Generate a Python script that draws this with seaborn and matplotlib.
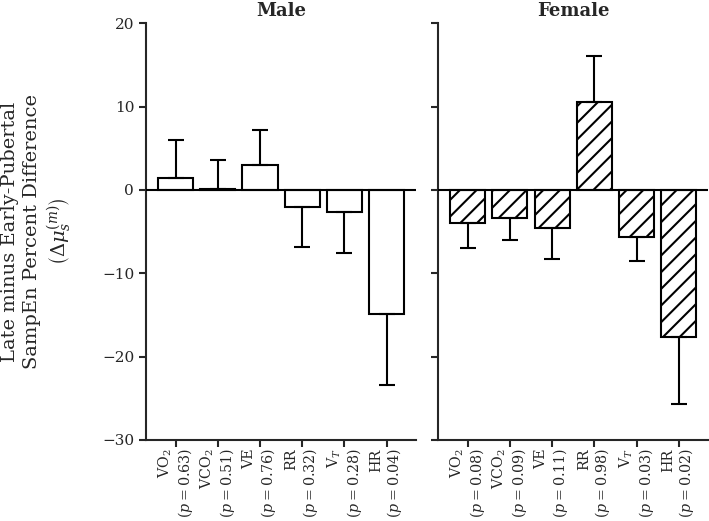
import numpy as np
import pandas as pd
import seaborn as sns
import matplotlib.pyplot as plt

sns.set_style("ticks")
plt.rcParams['font.family'] = ['DejaVu Serif']
plt.rcParams['mathtext.fontset'] = 'dejavuserif'
plt.rcParams['hatch.linewidth'] = 1.5

variables = ["VO$_2$", "VCO$_2$", "VE", "RR", "V$_T$", "HR"]

male_vals = [1.47, 0.15, 2.96, -2.1, -2.7, -14.9]
male_err = [4.5, 3.45, 4.24, 4.7, 4.9, 8.5]
male_p = ["0.63", "0.51", "0.76", "0.32", "0.28", "0.04"]

female_vals = [-3.96, -3.4, -4.56, 10.6, -5.6, -17.7]
female_err = [2.95, 2.6, 3.75, 5.5, 2.9, 8.0]
female_p = ["0.08", "0.09", "0.11", "0.98", "0.03", "0.02"]

fig = plt.figure(figsize=(7.09, 5.21), dpi=100)
ax_m = fig.add_axes([0.206, 0.1555, 0.381, 0.800])
ax_f = fig.add_axes([0.618, 0.1555, 0.381, 0.800], sharey=ax_m)


def draw_panel(ax, vals, err, pvals, title, hatch):
    labels = [f"{v}\n($p = {p}$)" for v, p in zip(variables, pvals)]
    df = pd.DataFrame({"var": labels, "val": vals})
    sns.barplot(data=df, x="var", y="val", order=labels, color="white",
                edgecolor="black", linewidth=1.5, width=0.83, errorbar=None,
                saturation=1, ax=ax)
    for bar in ax.patches:
        bar.set_facecolor("white")
        if hatch:
            bar.set_hatch(hatch)
    vals = np.array(vals)
    err = np.array(err)
    lower = np.where(vals < 0, err, 0)
    upper = np.where(vals >= 0, err, 0)
    ax.errorbar(np.arange(len(vals)), vals, yerr=[lower, upper], fmt="none",
                ecolor="black", elinewidth=1.5, capsize=6, capthick=1.5)
    ax.axhline(0, color="black", lw=1.5, zorder=3)
    ax.set_xlim(-0.7, 5.7)
    ax.set_ylim(-30, 20)
    ax.set_yticks([-30, -20, -10, 0, 10, 20])
    ax.set_xlabel("")
    ax.set_ylabel("")
    ax.set_title(title, fontsize=13, fontweight="bold", pad=5)
    for s in ["left", "bottom"]:
        ax.spines[s].set_linewidth(1.5)
    sns.despine(ax=ax)
    ax.tick_params(width=1.5, length=5, labelsize=11)
    ax.tick_params(axis="x", pad=1)
    for t in ax.get_xticklabels():
        t.set_rotation(90)
        t.set_multialignment("right")
        t.set_fontsize(10.3)
        t.set_linespacing(1.15)


draw_panel(ax_m, male_vals, male_err, male_p, "Male", None)
draw_panel(ax_f, female_vals, female_err, female_p, "Female", "//")
ax_f.tick_params(labelleft=False)

ax_m.set_ylabel("Late minus Early-Pubertal\nSampEn Percent Difference\n"
                r"$\left(\Delta\mu_s^{(m)}\right)$", fontsize=14,
                labelpad=20, linespacing=1.25)

fig.savefig("out.png", dpi=100)
